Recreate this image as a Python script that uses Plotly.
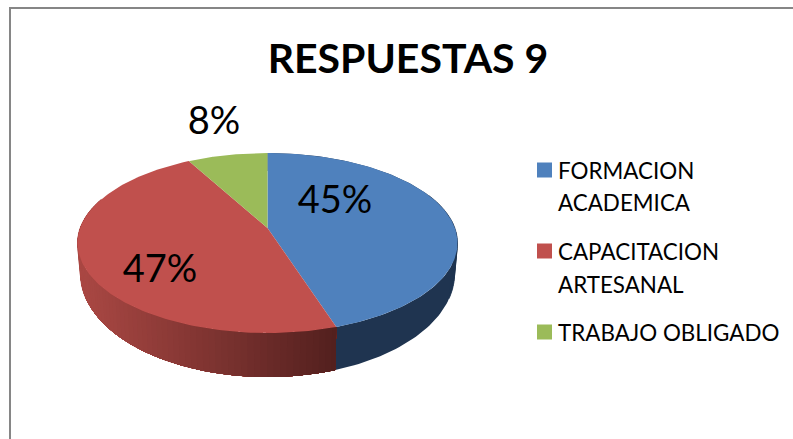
import numpy as np
import plotly.graph_objects as go

# ---- data ----
title_text = "RESPUESTAS 9"
categories = ["FORMACION<br>ACADEMICA", "CAPACITACION<br>ARTESANAL", "TRABAJO OBLIGADO"]
values = [45, 47, 8]
top_colors = ["#4F81BD", "#C0504D", "#9BBB59"]

# ---- layout constants (pixels, the axes run 1:1 with the window) ----
W, H = 793, 439
CX, TOP_CY, TOP_RX, TOP_RY = 267.5, 243, 190, 90
BOT_CY, BOT_RX, BOT_RY = 274, 187, 103
PERSP = 0.167
label_xy = [(335, 203), (160, 272), (214, 124)]
LABEL_FONT = 38
LEG_FONT = 22.4
TITLE_FONT = 41
FONT = "Lato"
BLUE_SIDE = "#1F3450"


def rim(theta, cy, rx, ry):
    """Perspective projection of a circle point (theta clockwise from the top)."""
    u, v = np.sin(theta), np.cos(theta)
    d = 1 + PERSP * v
    return CX + rx * u * np.sqrt(1 - PERSP**2) / d, cy - ry * (v + PERSP) / d


apex = (CX, TOP_CY - TOP_RY * PERSP)
total = sum(values)
edges = np.cumsum([0] + values) / total * 2 * np.pi

fig = go.Figure()


def poly(xs, ys, color, lw=0):
    fig.add_trace(go.Scatter(
        x=xs, y=ys, mode="lines", fill="toself", fillcolor=color,
        line=dict(color=color, width=lw), hoverinfo="skip", showlegend=False))


def red_side(x):
    t = np.clip((x - 83) / (336 - 83), 0, 1)
    return "rgb(%d,%d,%d)" % (170 - 88 * t, 72 - 40 * t, 68 - 38 * t)


# side wall: blue slice in one flat colour
th = np.linspace(edges[0], edges[1], 120)
tx, ty = rim(th, TOP_CY, TOP_RX, TOP_RY)
bx, by = rim(th, BOT_CY, BOT_RX, BOT_RY)
poly(np.r_[tx, bx[::-1]], np.r_[ty, by[::-1]], BLUE_SIDE)
# quads around the widest point close the outline between the two rims
for i in np.nonzero(np.abs(np.cos(th)) < 0.4)[0][:-1]:
    poly([tx[i], tx[i + 1], bx[i + 1], bx[i]], [ty[i], ty[i + 1], by[i + 1], by[i]],
         BLUE_SIDE, lw=0.5)

# red slice: a gradient, painted from the far left end towards the blue edge.
# Each band reaches all the way to the edge, so no seams show between bands.
th = np.linspace(edges[1], edges[2], 600)
th = th[np.cos(th) < 0.35]
tx, ty = rim(th, TOP_CY, TOP_RX, TOP_RY)
bx, by = rim(th, BOT_CY, BOT_RX, BOT_RY)
for i in range(len(th) - 1, 0, -6):
    poly(np.r_[tx[:i + 1], bx[:i + 1][::-1]], np.r_[ty[:i + 1], by[:i + 1][::-1]],
         red_side(bx[i]))
for i in range(len(th) - 1, 0, -6):
    if abs(np.cos(th[i])) < 0.4:
        j = max(i - 6, 0)
        poly([tx[i], tx[j], bx[j], bx[i]], [ty[i], ty[j], by[j], by[i]],
             red_side(bx[i]), lw=0.5)

# top face
for i, c in enumerate(top_colors):
    th = np.linspace(edges[i], edges[i + 1], 160)
    x, y = rim(th, TOP_CY, TOP_RX, TOP_RY)
    poly(np.r_[apex[0], x, apex[0]], np.r_[apex[1], y, apex[1]], c)

# percentage labels
fig.add_trace(go.Scatter(
    x=[p[0] for p in label_xy], y=[p[1] for p in label_xy], mode="text",
    text=[f"{v}%" for v in values], textposition="middle center",
    textfont=dict(family=FONT, size=LABEL_FONT, color="#000000"),
    hoverinfo="skip", showlegend=False))

# legend: squares + text, each line placed on its own
leg_rows = [(170, 202), (251, 284), (332,)]
shapes = [
    dict(type="line", xref="x", yref="y", x0=10, x1=10, y0=8, y1=H,
         line=dict(color="#868686", width=2)),
    dict(type="line", xref="x", yref="y", x0=9, x1=W, y0=8, y1=8,
         line=dict(color="#868686", width=2)),
]
anns = []
for cat, rows, c in zip(categories, leg_rows, top_colors):
    shapes.append(dict(type="rect", xref="x", yref="y", x0=537, x1=552,
                       y0=rows[0] - 7.5, y1=rows[0] + 7.5,
                       fillcolor=c, line=dict(width=0)))
    for line, yy in zip(cat.split("<br>"), rows):
        anns.append(dict(x=558, y=yy, xref="x", yref="y", text=line, showarrow=False,
                         xanchor="left", yanchor="middle", xshift=-2,
                         font=dict(family=FONT, size=LEG_FONT, color="#000000")))

fig.update_layout(
    width=W, height=H, autosize=False,
    margin=dict(l=0, r=0, t=0, b=0),
    paper_bgcolor="white", plot_bgcolor="white",
    showlegend=False,
    title=dict(text=f"<b>{title_text}</b>", x=408 / W, xanchor="center",
               y=1 - 59 / H, yanchor="middle",
               font=dict(family=FONT, size=TITLE_FONT, color="#000000")),
    xaxis=dict(range=[0, W], visible=False, fixedrange=True),
    yaxis=dict(range=[H, 0], visible=False, fixedrange=True),
    shapes=shapes, annotations=anns,
)
fig.write_html("out.html", config=dict(displayModeBar=False), default_height=H, default_width=W,
               post_script="document.body.style.margin='0';document.documentElement.style.overflow='hidden';")
